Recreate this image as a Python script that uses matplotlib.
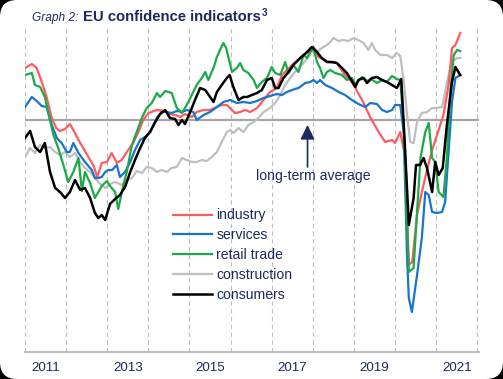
import matplotlib.pyplot as plt
import numpy as np
from matplotlib.patches import FancyBboxPatch

# months since Jan 2011 and deviation from long-term average (arbitrary units)
ind_m = [0, 2, 3.4, 4.9, 6.3, 7.8, 9.1, 10.2, 11.7, 13.1, 14.1, 15.6, 17, 18.5, 19.9, 21.1, 22.4, 23.9, 25.3, 26.8,
         28.2, 29.7, 31.6, 33.1, 34.5, 36, 38.5, 40.9, 42.3, 43.8, 45.3, 46.7, 48.7, 50.1, 52.1, 54, 56, 57.4, 58.9, 60.4,
         61.3, 62.8, 64.2, 65.7, 67.7, 69.6, 71.5, 73.5, 75, 77.9, 80.8, 84.2, 85.6, 88.6, 91, 93.4, 94.9, 96.4, 98.8, 100.7,
         103.2, 105.1, 107.1, 108, 109.5, 111, 112, 113, 114.4, 115.8, 117.3, 118.8, 120.7, 122.1, 123.6, 124.6, 125.6, 127]
ind_v = [52, 56, 52, 38, 23, 2, -8, -11, -9, -4, -10, -20, -28, -37, -45, -57, -43, -42, -33, -43,
         -40, -32, -23, -12, 0, 7, 10, 9, 6, 5, 3, 6, 3, 8, 10, 10, 13, 15, 15, 10,
         7, 8, 10, 8, 12, 20, 28, 32, 45, 55, 63, 73, 63, 58, 57, 45, 40, 32, 17, 3,
         -12, -22, -20, -23, -12, -38, -145, -142, -95, -72, -50, -30, -10, 5, 35, 72, 75, 87]

svc_m = [0, 2, 3.4, 4.9, 6.3, 7.8, 9.3, 10.7, 12.2, 13.1, 14.1, 15.6, 17.5, 19.5, 20.4, 21.4, 22.4, 23.4, 24.3, 25.4,
         26.8, 27.7, 29.2, 30.7, 32.1, 33.6, 35, 36.5, 38.5, 39.9, 41.4, 42.8, 44.3, 45.8, 47.2, 49.1, 50.1, 52.1, 54, 56,
         57.9, 59.9, 61.8, 63.7, 65.7, 67.7, 69.6, 71.5, 73.5, 75, 76.4, 77.9, 79.8, 81.8, 83.2, 84.2, 85.2, 86.1, 87.6, 89.6,
         91.5, 93.4, 95.4, 97.3, 99.3, 100.7, 102.7, 104.2, 105.6, 107.1, 108, 109.5, 110.5, 111.5, 112, 112.9, 114.4, 115.8,
         116.8, 117.8, 118.8, 120.2, 121.7, 122.6, 123.6, 124.6, 125.6, 127]
svc_v = [13, 23, 19, 14, 13, -5, -18, -23, -32, -32, -23, -33, -42, -50, -58, -58, -57, -52, -50, -50,
         -45, -57, -52, -42, -30, -20, -17, -12, 2, 8, 8, 7, 9, 8, 10, 8, 0, 5, 8, 13,
         18, 20, 17, 18, 17, 19, 22, 24, 26, 25, 28, 30, 32, 37, 38, 40, 37, 40, 35, 32,
         28, 25, 20, 16, 13, 17, 16, 10, 8, 10, 15, 15, -12, -138, -178, -192, -155, -118,
         -72, -75, -92, -93, -92, -82, -32, 18, 42, 45]

ret_m = [0, 2, 2.9, 4.4, 5.8, 6.8, 8.3, 9.7, 11.2, 12.6, 14.1, 15.6, 16.6, 17.5, 19, 20.4, 22.4, 23.9, 24.8, 26.3,
         27.2, 28.7, 29.7, 31.2, 32.6, 34.1, 35.5, 37, 38.5, 39.4, 40.9, 42.8, 44.3, 45.8, 47.2, 49.1, 50.1, 51.6, 52.6, 53.5,
         55, 56, 56.9, 57.9, 58.7, 59.4, 60.4, 61.8, 62.8, 63.7, 65.2, 66.7, 67.7, 69.1, 70.6, 72, 73, 74.5, 75.9, 76.9,
         78.3, 79.8, 81.3, 82.3, 83.2, 84.2, 85.2, 86.1, 87.1, 88.1, 89.1, 90.5, 92.5, 93.9, 95.4, 96.4, 98.3, 99.8, 101, 102.7,
         104.2, 105.6, 107.1, 108.5, 109.5, 110.5, 111.5, 112, 113.4, 114.4, 115.4, 116.8, 117.8, 118.8, 119.7, 120.7,
         122.1, 123.1, 124.1, 125.1, 126.1, 127]
ret_v = [45, 47, 35, 33, 23, 7, -15, -28, -45, -62, -52, -38, -71, -52, -63, -78, -66, -61, -66, -72,
         -89, -65, -52, -25, -12, 2, 12, 17, 27, 23, 29, 27, 12, 7, 15, 28, 35, 42, 48, 40,
         52, 63, 70, 77, 72, 62, 48, 52, 57, 50, 47, 40, 32, 38, 42, 53, 47, 45, 58, 47,
         55, 48, 65, 62, 68, 72, 58, 52, 42, 48, 50, 47, 45, 40, 42, 36, 43, 39, 41, 37,
         40, 38, 44, 41, 40, -5, -105, -152, -148, -92, -38, -12, -3, -38, -42, -72,
         -77, -38, 28, 65, 70, 69]

con_m = [0, 1.5, 2.9, 4.4, 5.8, 7.3, 8.8, 10.2, 11.7, 13.1, 14.6, 16.1, 17.5, 19, 20.4, 21.9, 23.4, 24.8, 26.3, 28.2,
         29.7, 31.2, 32.6, 34.1, 35.5, 37, 38.5, 39.9, 41.4, 42.8, 44.3, 45.8, 47.2, 48.7, 50.1, 51.6, 53, 54.5, 56, 57.4,
         58.9, 59.9, 60.8, 62.3, 63.7, 65.2, 66.7, 68.1, 69.6, 71.5, 73, 74.5, 75.9, 77.4, 78.8, 80.8, 82.7, 84.2, 85.6, 86.6,
         88.1, 89.1, 90, 91.5, 92.9, 94.3, 95.9, 97.2, 98.8, 100.2, 101.2, 102.2, 103.7, 105.6, 107.1, 108.5, 109.5, 110.5,
         111.5, 112.4, 113.4, 114.4, 115.8, 117.3, 118.8, 120.2, 121.7, 122.6, 123.6, 124.6, 126.1, 127]
con_v = [-37, -28, -33, -25, -28, -27, -32, -35, -32, -37, -33, -42, -48, -52, -58, -64, -68, -64, -62, -65,
         -60, -58, -51, -53, -47, -48, -52, -50, -52, -48, -47, -38, -40, -42, -42, -40, -41, -37, -32, -22,
         -12, -10, -13, -8, -12, -5, -2, 2, 8, 12, 17, 25, 35, 42, 48, 55, 63, 70, 69, 72,
         75, 78, 82, 79, 80, 79, 82, 80, 77, 70, 77, 70, 65, 65, 62, 67, 64, 40,
         5, -22, -23, -2, 7, 8, 12, 12, 13, 28, 45, 58, 62, 62]

cns_m = [0, 1.5, 2.9, 4.4, 5.8, 7.3, 8.8, 10.2, 11.7, 13.1, 14.6, 16.1, 17.5, 19, 20.4, 21.4, 22.4, 23.4, 24.8, 26.3,
         27.7, 29.2, 30.7, 32.1, 33.6, 35, 36.5, 38, 39.4, 40.9, 42.3, 43.8, 44.8, 45.8, 46.7, 48.2, 49.6, 51.1, 52.6, 54,
         55, 56, 57.4, 58.9, 59.7, 60.8, 62.3, 63.7, 64.8, 66.2, 67.7, 69.1, 70.6, 72, 73, 74, 75.4, 76.9, 78.3, 80.3,
         82.3, 83.7, 85.2, 86.6, 88.1, 89.6, 91, 92.5, 93.9, 95.4, 96.4, 97.3, 98.8, 99.8, 101.2, 102.7, 104.2, 105.6, 107.1, 108.5,
         109.8, 110.8, 112, 113.4, 114.1, 115.3, 116.3, 117.3, 118.8, 119.7, 120.7, 121.9, 123.1, 124.6, 125.6, 127]
cns_v = [-18, -11, -27, -32, -23, -52, -68, -72, -78, -72, -60, -70, -68, -78, -93, -98, -95, -100, -84, -79,
         -75, -67, -52, -40, -28, -18, -12, -2, 6, 10, 2, 1, -5, 0, -4, 8, 20, 32, 30, 23,
         18, 28, 35, 42, 45, 33, 20, 23, 23, 25, 27, 30, 40, 42, 32, 32, 42, 48, 55, 62,
         68, 73, 68, 62, 58, 58, 57, 52, 47, 39, 33, 40, 42, 37, 42, 43, 40, 38, 35, 32,
         41, -22, -105, -78, -45, -45, -38, -48, -72, -42, -55, -48, -5, 38, 53, 45]

series = [
    ('construction', con_m, con_v, '#BFBFBF'),
    ('industry', ind_m, ind_v, '#FF5B5F'),
    ('services', svc_m, svc_v, '#1874CD'),
    ('retail trade', ret_m, ret_v, '#1DA84A'),
    ('consumers', cns_m, cns_v, '#000000'),
]
legend_order = ['industry', 'services', 'retail trade', 'construction', 'consumers']
year_labels = ['2011', '2013', '2015', '2017', '2019', '2021']

NAVY = '#1C2A5E'
FONT = 'Liberation Sans'

fig = plt.figure(figsize=(5.03, 3.79), dpi=100, facecolor='black')
bg = FancyBboxPatch((0, 0), 5.03, 3.79, boxstyle='round,pad=0,rounding_size=0.17',
                    transform=fig.dpi_scale_trans, fc='white', ec='none', zorder=-5)
fig.patches.append(bg)

ax = fig.add_axes([25 / 503, 27 / 379, 454 / 503, 324 / 379])
ax.set_facecolor('white')
ax.set_xlim(2011, 2022.04)
ax.set_ylim(-232, 92)

ax.axhline(0, color='#A6A6A6', lw=1.6, zorder=1)

handles = {}
for name, m, v, c in series:
    x = 2011 + np.array(m) / 12
    lw = 1.8 if name == 'consumers' else 1.6
    line, = ax.plot(x, v, color=c, lw=lw, label=name, zorder=3)
    handles[name] = line

# year grid and labels
ax.set_xticks(np.arange(2011, 2023), minor=True)
ax.set_xticks([int(y) + 0.5 for y in year_labels])
ax.set_xticklabels(year_labels, family=FONT, fontsize=9.6, color=NAVY)
ax.grid(axis='x', which='minor', color='#BDBDBD', lw=0.8, ls=(0, (4, 3)))
ax.tick_params(axis='both', which='both', length=0)
ax.tick_params(axis='x', pad=7)
ax.set_yticks([])
for s in ['left', 'right', 'top']:
    ax.spines[s].set_visible(False)
ax.spines['bottom'].set_color('#BFBFBF')
ax.spines['bottom'].set_linewidth(1.5)

ax.annotate('', xy=(2017.87, -5), xytext=(2017.87, -47),
            arrowprops=dict(arrowstyle='-|>,head_length=0.86,head_width=0.43',
                            color=NAVY, lw=1.2, shrinkA=0, shrinkB=0), zorder=4)
ax.text(2018.0, -56, 'long-term average', ha='center', va='center',
        fontsize=10.1, color=NAVY, family=FONT)

leg = ax.legend([handles[n] for n in legend_order], legend_order, loc='upper left',
                bbox_to_anchor=(0.326, 0.443), frameon=False, handlelength=2.75,
                handletextpad=0.35, labelspacing=0.42, borderpad=0, borderaxespad=0,
                prop={'family': FONT, 'size': 10.1})
for t in leg.get_texts():
    t.set_color(NAVY)

# title
fig.text(32 / 503, 1 - 21 / 379, 'Graph 2:', fontsize=8.6, style='italic',
         color=NAVY, family=FONT, va='baseline')
fig.text(83 / 503, 1 - 21 / 379, 'EU confidence indicators', fontsize=10.7,
         weight='bold', color=NAVY, family=FONT, va='baseline')
fig.text(262 / 503, 1 - 15.5 / 379, '3', fontsize=7, weight='bold',
         color=NAVY, family=FONT, va='baseline')

fig.savefig('out.png', dpi=100, facecolor=fig.get_facecolor())
